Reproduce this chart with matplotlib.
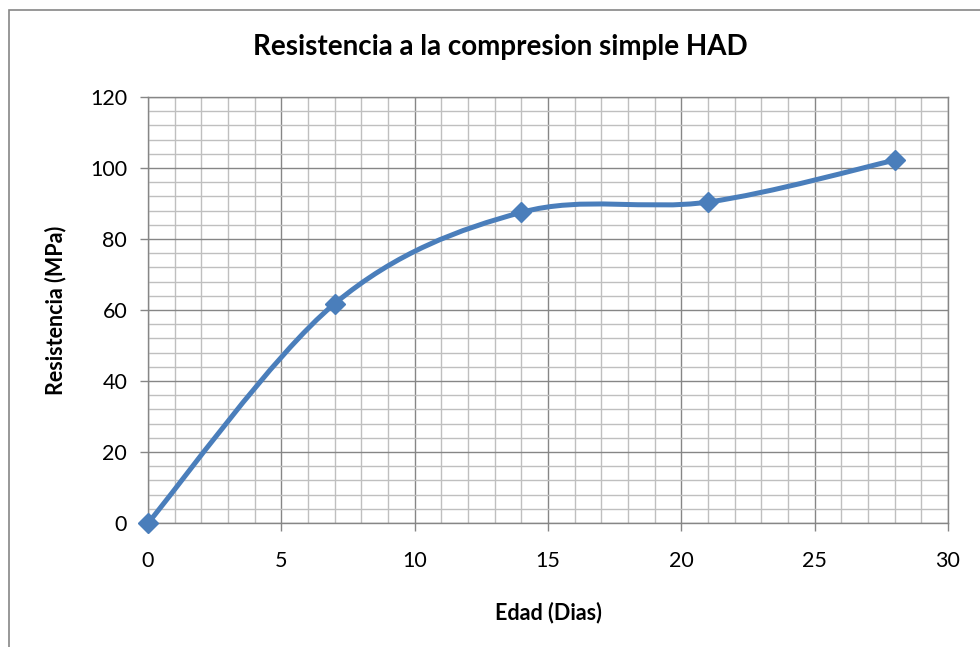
import numpy as np
import matplotlib
matplotlib.use('Agg')
import matplotlib.pyplot as plt
from matplotlib.path import Path
from matplotlib.patches import PathPatch, Rectangle

# datos
edad = [0, 7, 14, 21, 28]
resistencia = [0, 61.8, 87.5, 90.4, 102.2]

titulo = 'Resistencia a la compresion simple HAD'
xlabel = 'Edad (Dias)'
ylabel = 'Resistencia (MPa)'

azul = '#4A7EBB'
gris_mayor = '#868686'
gris_menor = '#BFBFBF'

plt.rcParams['font.family'] = ['Lato', 'DejaVu Sans']

fig = plt.figure(figsize=(9.8, 6.47), dpi=100)
ax = fig.add_axes([148/980, 124/647, 800/980, 426/647])

# curva suavizada tipo Excel (bezier con tangentes catmull-rom)
pts = np.column_stack([edad, resistencia]).astype(float)
verts = [tuple(pts[0])]
codes = [Path.MOVETO]
n = len(pts)
for i in range(n - 1):
    p0 = pts[i - 1] if i > 0 else pts[i]
    p1 = pts[i]
    p2 = pts[i + 1]
    p3 = pts[i + 2] if i + 2 < n else pts[i + 1]
    c1 = p1 + (p2 - p0) / 6.0
    c2 = p2 - (p3 - p1) / 6.0
    verts += [tuple(c1), tuple(c2), tuple(p2)]
    codes += [Path.CURVE4] * 3
ax.add_patch(PathPatch(Path(verts, codes), facecolor='none', edgecolor=azul,
                       lw=3.6, capstyle='round', joinstyle='round', zorder=3))
ax.plot(edad, resistencia, linestyle='none', marker='D', ms=10.5, color=azul,
        clip_on=False, zorder=4)

ax.set_xlim(0, 30)
ax.set_ylim(0, 120)
ax.set_xticks(np.arange(0, 31, 5))
ax.set_yticks(np.arange(0, 121, 20))
ax.set_xticks(np.arange(0, 31, 1), minor=True)
ax.set_yticks(np.arange(0, 121, 4), minor=True)
ax.grid(which='major', color=gris_mayor, lw=1.0, zorder=1)
ax.grid(which='minor', color=gris_menor, lw=1.0, zorder=0)
ax.set_axisbelow(True)

for s in ['left', 'bottom', 'top', 'right']:
    ax.spines[s].set_color(gris_mayor)
    ax.spines[s].set_linewidth(1.0)

ax.tick_params(which='major', length=6, width=1.0, color=gris_mayor,
               labelsize=15.5, pad=9)
ax.tick_params(axis='x', which='major', pad=14)
ax.tick_params(which='minor', length=0)

# titulo centrado en el area del grafico, no en los ejes
fig.text(500/980, 1 - 47/647, titulo, fontsize=20, fontweight='bold',
         ha='center', va='center')
ax.set_xlabel(xlabel, fontsize=15.5, fontweight='bold', labelpad=22)
ax.set_ylabel(ylabel, fontsize=15.5, fontweight='bold', labelpad=17)

# borde del area del grafico
fig.add_artist(Rectangle((9/980, -0.1), 1.2, (637/647) + 0.1,
                         transform=fig.transFigure, facecolor='none',
                         edgecolor=gris_mayor, lw=1.2, clip_on=False))

fig.savefig('out.png', dpi=100)
